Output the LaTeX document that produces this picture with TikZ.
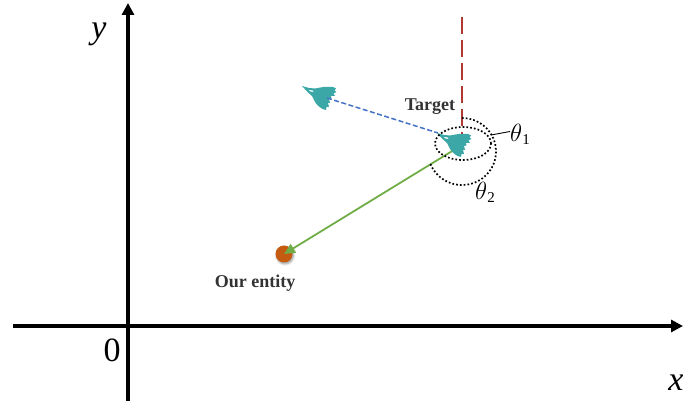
\documentclass[tikz,border=0pt]{standalone}
\usepackage{fontspec}
\setmainfont{Liberation Serif}
\usetikzlibrary{arrows.meta,shapes.geometric,shadows.blur}
\definecolor{jetc}{HTML}{3BA7A6}
\definecolor{blueline}{HTML}{4472C4}
\definecolor{greenline}{HTML}{70AD47}
\definecolor{redline}{HTML}{B03A32}
\definecolor{entityc}{HTML}{C55A11}
\definecolor{labelc}{HTML}{333333}
\tikzset{
  axisline/.style={line width=3.6pt,-{Triangle[length=12pt,width=12pt]}},
  axislabel/.style={font=\fontsize{34}{34}\selectfont\itshape,inner sep=0pt},
  anglelabel/.style={font=\fontsize{23}{23}\selectfont\itshape,inner sep=0pt},
  tag/.style={font=\fontsize{18}{18}\selectfont\bfseries,text=labelc,inner sep=0pt},
  dots/.style={line width=1.7pt,dash pattern=on 1.7pt off 2.1pt},
  jet/.pic={
    \fill[jetc,even odd rule] (0,0) -- (7,2) -- (13,2.5) .. controls (17,2) and (19,1) .. (22,1) -- (31,1)
      -- (34,2.5) -- (32.5,4.5) -- (34.5,6) -- (31.5,7.5) -- (33,10) -- (29,10) -- (29.5,12.5) -- (27,13)
      -- (28,17) -- (26,17) -- (27,21) -- (24.5,21) -- (24,24) -- (20.5,23)
      .. controls (17,21) and (14,18) .. (12.5,15) -- (10,10) -- (5,5.5) -- cycle
      (6,3.6) -- (10.5,4.4) -- (12,6) -- (8.5,5.6) -- cycle;
  }
}
\begin{document}
\begin{tikzpicture}[x=1pt,y=-1pt]
\useasboundingbox (0,0) rectangle (683,403);
% axes
\coordinate (xs) at (13,326);
\coordinate (xe) at (683,326);
\coordinate (ys) at (128,401);
\coordinate (ye) at (128,3);
\draw[axisline] (xs) -- (xe);
\draw[axisline] (ys) -- (ye);
\node[axislabel] (ylab) at (99,34) {y};
\node[axislabel] (xlab) at (676,383) {x};
\node[axislabel,font=\fontsize{34}{34}\selectfont] (zero) at (112,350) {0};
% entity
\node[circle,fill=entityc,minimum size=17pt,inner sep=0pt,
  blur shadow={shadow xshift=1pt,shadow yshift=-1.5pt,shadow blur steps=6,shadow blur radius=2pt}] (entity) at (284,254) {};
\node[tag] (entitylab) at (255,283) {Our entity};
% far jet
\pic at (302,86) {jet};
\coordinate (far) at (327,98);
\coordinate (tgt) at (462,145);
\coordinate (redtop) at (462,17);
\coordinate (blueend) at (438,133);
% lines
\draw[redline,line width=1.7pt,dash pattern=on 17pt off 6pt] (redtop) -- (462,134);
\draw[blueline,line width=1.5pt,dash pattern=on 5pt off 2.5pt] (far) -- (blueend);
\draw[greenline,line width=1.8pt,-{Triangle[length=11pt,width=10pt]}] (tgt) -- (entity.center);
% near jet
\pic at (437,133) {jet};
% angle marks
\node[ellipse,draw,dots,minimum width=56pt,minimum height=33pt,inner sep=0pt] (ang1) at (463,143.5) {};
\draw[dots] plot[smooth,domain=-90:160,samples=50] ({462+34*cos(\x)},{151.5+33.5*sin(\x)});
\coordinate (leadA) at (491,135);
\coordinate (leadB) at (510,131.5);
\draw[line width=0.9pt] (leadA) -- (leadB);
\node[anglelabel] (t1) at (520,134) {$\theta$\raisebox{-3pt}{\upshape\fontsize{15}{15}\selectfont 1}};
\node[anglelabel] (t2) at (485,192) {$\theta$\raisebox{-3pt}{\upshape\fontsize{15}{15}\selectfont 2}};
\node[tag] (target) at (430,107) {Target};
\end{tikzpicture}
\end{document}
